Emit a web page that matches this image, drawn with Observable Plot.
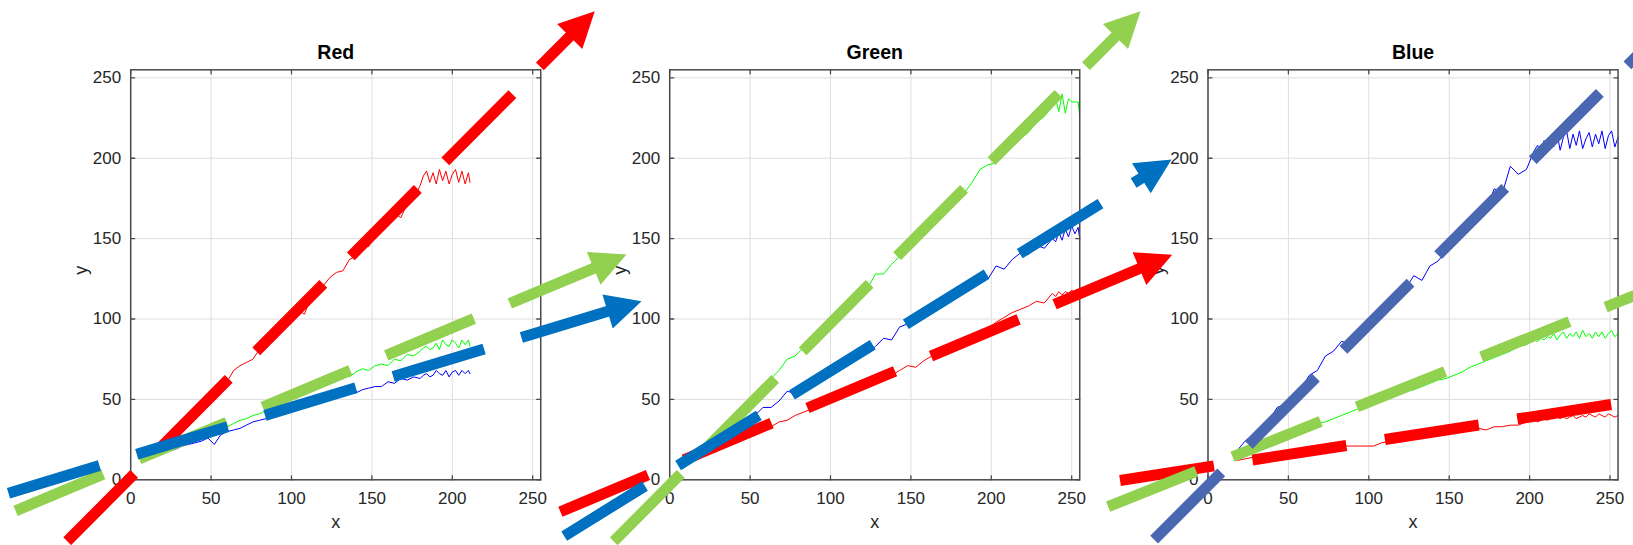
<!DOCTYPE html>
<html><head><meta charset="utf-8">
<script src="https://cdn.jsdelivr.net/npm/d3@7"></script>
<script src="https://cdn.jsdelivr.net/npm/@observablehq/plot@0.6"></script>
<style>
html,body{margin:0;padding:0;background:#fff;overflow:hidden;}
#fig{position:relative;width:1633px;height:545px;overflow:hidden;}
#fig svg{position:absolute;left:0;top:0;}
</style></head><body><div id="fig"></div>
<script>
// ---------- data ----------
const titles = ["Red", "Green", "Blue"];
const xTicks = [0, 50, 100, 150, 200, 250];
const yTicks = [0, 50, 100, 150, 200, 250];
const lineColors = ["#ff0000", "#00ff00", "#0000ff"];

// Panel 1 (Red)
const p1X = [12,16,20,24,28,32,36,40,44,48, 52,56,60,64,68,72,76,80,84,88, 92,96,100,104,108,112,116,120,124,128, 132,136,140,144,148,152,156,160,164,168, 172,176,
  180,182,184,186,188,190,192,194,196,198,200,202,204,206,208,210,211];
const p1Red = [13,17,21,24,29,31,37,39,45,47, 53,55,61,68,71,73,75,81,83,89, 90,97,98,106,103,113,115,121,126,129, 130,137,139,146,145,153,155,158,166,163, 172,175,
  183,189,192,185,191,184,193,186,192,184,190,193,185,192,184,191,185];
const p1Green = [14,16,18,19,21,22,24,25,27,28, 30,31,33,35,37,38,40,41,43,46, 47,49,51,52,55,56,57,60,61,63, 66,64,67,69,68,71,72,71,75,74, 78,77,
  80,82,83,81,82,85,81,87,84,83,87,85,82,87,84,87,83];
const p1Blue = [14,15,17,18,19,21,22,23,24,26, 22,28,30,31,32,34,36,37,38,39, 41,42,43,44,46,47,48,50,51,52, 53,55,54,56,57,58,58,61,60,63, 62,64,
  63,65,66,64,65,68,66,65,68,64,67,68,65,68,66,68,66];

// Panel 2 (Green)
const p2X = [8,13,18,23,28,33,38,43,48,53, 58,63,68,73,78,83,88,93,98,103, 108,113,118,123,128,133,138,143,148,153, 158,163,168,173,178,183,188,193,198,203, 208,213,218,223,228,233,
  238,240,242,244,246,248,250,252,254,255];
const p2Red = [9,12,14,16,18,20,22,26,28,29, 32,33,36,37,40,42,44,46,48,51, 52,55,57,59,61,63,65,68,71,70, 74,77,80,80,84,86,88,92,94,98, 101,104,106,108,111,110,
  116,114,117,115,117,116,118,116,117,118];
const p2Green = [10,14,19,24,29,33,38,43,48,52, 57,63,68,75,77,82,86,91,96,100, 105,110,115,119,128,128,134,139,144,149, 153,158,165,168,172,178,185,193,196,197, 204,207,212,216,222,226,
  232,237,229,240,228,237,235,235,235,226];
const p2Blue = [11,14,17,20,23,27,30,33,36,40, 45,45,49,55,54,57,60,62,66,68, 71,73,76,79,83,88,87,95,97,99, 103,106,110,113,115,118,125,128,125,133, 131,137,141,140,146,144,
  150,148,154,149,156,151,158,153,157,150];

// Panel 3 (Blue)
const p3X = [18,23,28,33,38,43,48,53,58,63, 68,73,78,83,88,93,98,103,108,113, 118,123,128,133,138,143,148,153,158,163, 168,173,178,183,188,193,198,
  203,205,207,209,211,213,215,217,219,221, 223,225,227,229,231,233,235,237,239,241, 243,245,247,249,251,253,255];
const p3Red = [12,13,14,15,16,16,17,18,19,19, 20,21,21,21,21,21,21,21,23,24, 25,25,26,27,28,28,29,30,31,31, 32,31,33,33,34,34,36,
  37,36,37,38,37,38,38,39,38,39, 38,39,40,38,39,40,39,41,40,39, 41,40,39,41,40,39,40];
const p3Green = [16,18,20,22,25,26,28,30,32,33, 35,36,38,40,42,44,46,48,50,51, 53,55,56,58,60,62,63,65,67,70, 72,74,76,78,80,83,84,
  87,86,88,87,89,88,91,87,90,92, 88,91,89,92,88,93,89,91,88,92, 89,92,88,91,93,89,91];
const p3Blue = [18,24,28,33,37,45,47,52,57,65, 68,77,80,86,85,92,97,101,106,111, 115,119,127,124,133,136,142,147,154,159, 163,168,181,178,195,190,193,
  205,208,203,211,206,214,207,216,205,213, 217,206,215,208,217,206,212,216,207,215, 209,217,206,214,217,207,213];

// Arrows (annotation trend arrows), data units of each panel
const p1ArrowColor = ["#ff0000", "#92d050", "#0070c0"];
const p1ArrowX1 = [-39.5, -71.6, -76.0];
const p1ArrowY1 = [-38.2, -19.3, -8.3];
const p1ArrowX2 = [288.6, 308.3, 317.7];
const p1ArrowY2 = [291.4, 140.1, 111.1];

const p2ArrowColor = ["#ff0000", "#92d050", "#0070c0"];
const p2ArrowX1 = [-68.0, -34.8, -65.6];
const p2ArrowY1 = [-19.9, -38.3, -35.0];
const p2ArrowX2 = [312.5, 292.8, 312.1];
const p2ArrowY2 = [139.9, 291.4, 199.2];

const p3ArrowColor = ["#ff0000", "#92d050", "#4a67b2"];
const p3ArrowX1 = [-54.7, -62.1, -33.5];
const p3ArrowY1 = [-0.4, -16.7, -37.2];
const p3ArrowX2 = [312.0, 310.0, 293.0];
const p3ArrowY2 = [56.3, 132.6, 290.0];

// ---------- layout / style ----------
const W = 1633, H = 545;
const panelLeft = [130.2, 669.2, 1207.5];
const frameW = 410.04, marginTop = 69.3, marginBottom = 65.7;
const domainMax = 255;
const PX = frameW / domainMax;
const FONT = "'Liberation Sans', Arial, Helvetica, sans-serif";
const HEAD_LEN = 35.5, HEAD_W = 35.5;
const SHAFT_W = 11, DASH = "95 39";

const tickShape = {draw(ctx, l) { ctx.moveTo(0, 0); ctx.lineTo(0, -l); }};
const headShape = {draw(ctx, l) { ctx.moveTo(-HEAD_W / 2, 0); ctx.lineTo(0, -l); ctx.lineTo(HEAD_W / 2, 0); ctx.closePath(); }};

function rows(xs, ysList) {
  const out = [];
  ysList.forEach((ys, k) => ys.forEach((y, i) => out.push({x: xs[i], y, c: lineColors[k]})));
  return out;
}
function arrowRows(colors, x1, y1, x2, y2) {
  return colors.map((c, i) => {
    const dx = x2[i] - x1[i], dy = y2[i] - y1[i], len = Math.hypot(dx, dy);
    const back = (HEAD_LEN - 3) / PX;
    return {c, x1: x1[i], y1: y1[i], x2: x2[i], y2: y2[i],
      ex: x2[i] - dx / len * back, ey: y2[i] - dy / len * back,
      rot: Math.atan2(dx, dy) * 180 / Math.PI};
  });
}

const panels = [
  {title: titles[0], lines: rows(p1X, [p1Red, p1Green, p1Blue]), arrows: arrowRows(p1ArrowColor, p1ArrowX1, p1ArrowY1, p1ArrowX2, p1ArrowY2)},
  {title: titles[1], lines: rows(p2X, [p2Red, p2Green, p2Blue]), arrows: arrowRows(p2ArrowColor, p2ArrowX1, p2ArrowY1, p2ArrowX2, p2ArrowY2)},
  {title: titles[2], lines: rows(p3X, [p3Red, p3Green, p3Blue]), arrows: arrowRows(p3ArrowColor, p3ArrowX1, p3ArrowY1, p3ArrowX2, p3ArrowY2)}
];

function common(i) {
  return {
    width: W, height: H,
    marginLeft: panelLeft[i], marginRight: W - panelLeft[i] - frameW,
    marginTop, marginBottom,
    x: {domain: [0, domainMax]},
    y: {domain: [0, domainMax]},
    color: {type: "identity"},
    style: {background: "transparent", fontFamily: FONT, fontSize: "17px", color: "#262626"}
  };
}

const frameColor = "#4a4a4a";
function basePlot(p, i) {
  return Plot.plot({
    ...common(i),
    marks: [
      Plot.gridX(xTicks, {stroke: "#dedede", strokeOpacity: 1, strokeWidth: 1}),
      Plot.gridY(yTicks, {stroke: "#dedede", strokeOpacity: 1, strokeWidth: 1}),
      Plot.line(p.lines, {x: "x", y: "y", z: "c", stroke: "c", strokeWidth: 1}),
      Plot.vectorX(xTicks, {frameAnchor: "bottom", anchor: "start", length: 4, rotate: 0, shape: tickShape, stroke: frameColor, strokeWidth: 1.3}),
      Plot.vectorX(xTicks, {frameAnchor: "top", anchor: "start", length: 4, rotate: 180, shape: tickShape, stroke: frameColor, strokeWidth: 1.3}),
      Plot.vectorY(yTicks, {frameAnchor: "left", anchor: "start", length: 4, rotate: 90, shape: tickShape, stroke: frameColor, strokeWidth: 1.3}),
      Plot.vectorY(yTicks, {frameAnchor: "right", anchor: "start", length: 4, rotate: -90, shape: tickShape, stroke: frameColor, strokeWidth: 1.3}),
      Plot.frame({stroke: frameColor, strokeWidth: 1.5}),
      Plot.axisX(xTicks, {tickSize: 0, tickPadding: 12, fontSize: 17, fill: "#262626", label: null}),
      Plot.axisY(yTicks, {tickSize: 0, tickPadding: 9.5, fontSize: 17, fill: "#262626", label: null}),
      Plot.text([p.title], {frameAnchor: "top", dy: -17.5, lineAnchor: "middle", fontSize: 19.5, fontWeight: "bold", fill: "#000"}),
      Plot.text(["x"], {frameAnchor: "bottom", dy: 42, lineAnchor: "middle", fontSize: 18, fill: "#262626"}),
      Plot.text(["y"], {frameAnchor: "left", dx: -49.5, rotate: -90, lineAnchor: "middle", fontSize: 18, fill: "#262626"})
    ]
  });
}

function overlayPlot(p, i) {
  const marks = [];
  p.arrows.forEach(a => {
    marks.push(Plot.link([a], {x1: "x1", y1: "y1", x2: "ex", y2: "ey", stroke: "c", strokeWidth: SHAFT_W, strokeDasharray: DASH, strokeLinecap: "butt"}));
    marks.push(Plot.vector([a], {x: "x2", y: "y2", rotate: "rot", length: HEAD_LEN, anchor: "end", shape: headShape, fill: "c", stroke: "none"}));
  });
  const opts = common(i);
  opts.x = {...opts.x, axis: null};
  opts.y = {...opts.y, axis: null};
  return Plot.plot({...opts, marks});
}

const fig = document.getElementById("fig");
panels.forEach((p, i) => fig.append(basePlot(p, i)));
panels.forEach((p, i) => fig.append(overlayPlot(p, i)));
fig.querySelectorAll("svg").forEach(s => { s.style.position = "absolute"; s.style.left = "0"; s.style.top = "0"; s.style.pointerEvents = "none"; });
</script></body></html>
